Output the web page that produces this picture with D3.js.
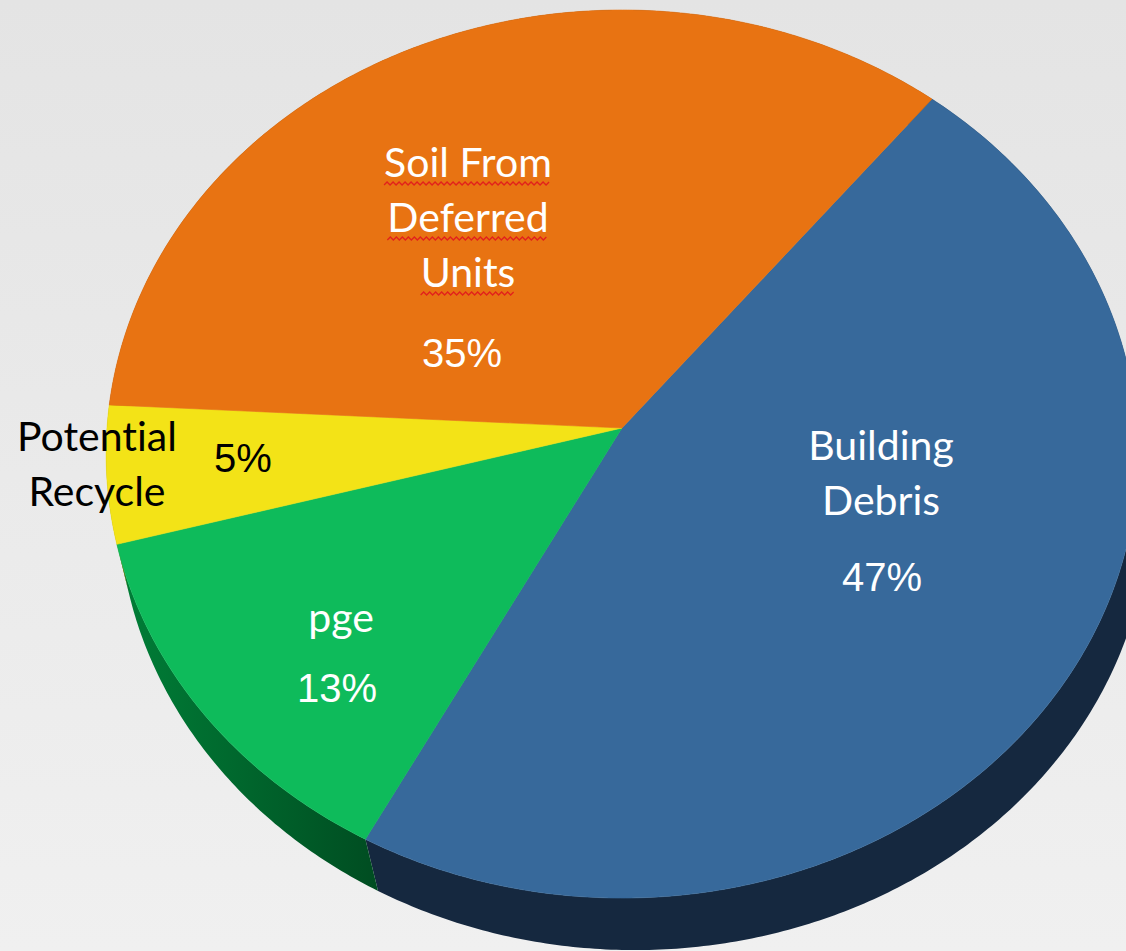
<!doctype html>
<html lang="en">
    <head>
        <meta charset="utf-8">
        <script src="https://d3js.org/d3.v7.min.js"></script>
        <title>Waste breakdown</title>
        <style>
            html, body { margin: 0; padding: 0; overflow: hidden; }
            text { font-variant-ligatures: none; font-feature-settings: "liga" 0; }
        </style>
    </head>
    <body>
        <div id="chart"></div>

        <script>
            // data, clockwise from the top-right
            var categories = ["Building Debris", "pge", "Potential Recycle", "Soil From Deferred Units"]
            var values = [47, 13, 5, 35]
            var pctLabels = ["47%", "13%", "5%", "35%"]

            // look
            var topColors  = ["#37699b", "#0ebb5b", "#f3e317", "#e87312"]
            var wallColors = ["#15283f", "#006a2e", "#8a8000", "#7a3a05"]
            var textColors = ["#ffffff", "#ffffff", "#000000", "#ffffff"]

            // label placement (name lines, centre x, first baseline, % position)
            var labelLayout = [
                { lines: ["Building", "Debris"], x: 881, y: 460, px: 882, py: 591 },
                { lines: ["pge"], x: 341, y: 632, px: 337, py: 702 },
                { lines: ["Potential", "Recycle"], x: 97, y: 451, px: 243, py: 472 },
                { lines: ["Soil From", "Deferred", "Units"], x: 468, y: 177, px: 462, py: 367, spell: true }
            ]

            var width = 1126
            var height = 951

            // perspective disc
            var cx = 622, cy = 428, sx = 515, sy = 442.5, k = 0.0586
            var depthX = 12, depthY = 49
            var startAngle = 39 * Math.PI / 180

            function proj(t, z) {
                var u = Math.sin(t), v = -Math.cos(t)
                var w = 1 - k * v
                return [cx + (sx * u + z * depthX) / w, cy + (sy * v + z * depthY) / w]
            }

            function rim(a0, a1, z) {
                var n = Math.max(2, Math.ceil((a1 - a0) / 0.01))
                return d3.range(n + 1).map(function(i) { return proj(a0 + (a1 - a0) * i / n, z) })
            }

            var svg = d3.select("#chart")
                .append("svg")
                .attr("width", width)
                .attr("height", height)

            var defs = svg.append("defs")
            var bg = defs.append("linearGradient").attr("id", "bg")
                .attr("x1", 0).attr("y1", 0).attr("x2", 0).attr("y2", 1)
            bg.append("stop").attr("offset", 0).attr("stop-color", "#e4e4e4")
            bg.append("stop").attr("offset", 1).attr("stop-color", "#f0f0f0")

            var gw = defs.append("linearGradient").attr("id", "greenWall")
                .attr("gradientUnits", "userSpaceOnUse")
                .attr("x1", 110).attr("y1", 0).attr("x2", 380).attr("y2", 0)
            gw.append("stop").attr("offset", 0).attr("stop-color", "#008038")
            gw.append("stop").attr("offset", 1).attr("stop-color", "#004c21")

            svg.append("rect")
                .attr("width", width)
                .attr("height", height)
                .attr("fill", "url(#bg)")

            var pie = d3.pie()
                .sort(null)
                .startAngle(startAngle)
                .endAngle(startAngle + 2 * Math.PI)
            var arcs = pie(values)

            var line = d3.line()

            // side walls
            svg.append("g")
                .selectAll("path")
                .data(arcs)
                .enter()
                .append("path")
                    .attr("d", function(d) {
                        var pts = rim(d.startAngle, d.endAngle, 0)
                            .concat(rim(d.startAngle, d.endAngle, 1).reverse())
                        return line(pts) + "Z"
                    })
                    .attr("fill", function(d, i) { return i == 1 ? "url(#greenWall)" : wallColors[i] })

            // top faces
            svg.append("g")
                .selectAll("path")
                .data(arcs)
                .enter()
                .append("path")
                    .attr("d", function(d) {
                        var pts = [[cx, cy]].concat(rim(d.startAngle, d.endAngle, 0))
                        return line(pts) + "Z"
                    })
                    .attr("fill", function(d, i) { return topColors[i] })
                    .attr("stroke", function(d, i) { return topColors[i] })
                    .attr("stroke-width", 0.6)

            // labels
            var labels = svg.append("g")
            arcs.forEach(function(d, i) {
                var L = labelLayout[i]
                L.lines.forEach(function(txt, j) {
                    var t = labels.append("text")
                        .attr("x", L.x)
                        .attr("y", L.y + j * 55)
                        .attr("text-anchor", "middle")
                        .attr("font-family", "Lato, 'Open Sans', sans-serif")
                        .attr("font-size", 41)
                        .attr("fill", textColors[i])
                        .text(txt)
                    if (L.spell) {
                        var b = t.node().getBBox()
                        var yy = L.y + j * 55 + 5
                        var zz = d3.range(Math.floor(b.width / 3) + 1).map(function(m) {
                            return [b.x + m * 3, yy + (m % 2 ? 0 : 3)]
                        })
                        labels.append("path")
                            .attr("d", line(zz))
                            .attr("fill", "none")
                            .attr("stroke", "#e2211c")
                            .attr("stroke-width", 1.3)
                    }
                })
                labels.append("text")
                    .attr("x", L.px)
                    .attr("y", L.py)
                    .attr("text-anchor", "middle")
                    .attr("font-family", "'Liberation Sans', Arial, sans-serif")
                    .attr("font-size", 40)
                    .attr("fill", textColors[i])
                    .text(pctLabels[i])
            })
        </script>
    </body>
</html>
